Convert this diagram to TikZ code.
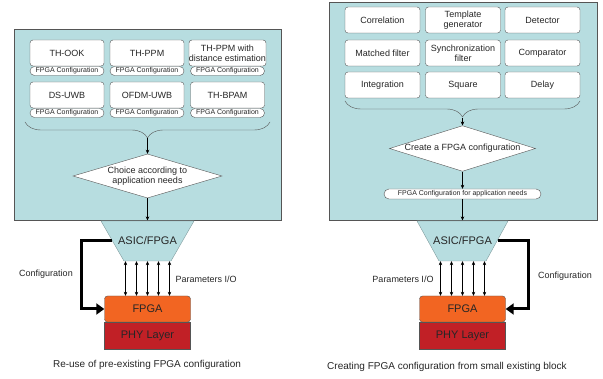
\documentclass[tikz,border=0pt]{standalone}
\usepackage{fontspec}
\setmainfont{Liberation Sans}
\usetikzlibrary{shapes.geometric,shapes.misc,decorations.pathreplacing,arrows.meta}
\definecolor{panelblue}{RGB}{183,221,224}
\definecolor{fpgaorange}{RGB}{242,101,34}
\definecolor{phyred}{RGB}{193,32,38}
\definecolor{edgegray}{RGB}{85,85,85}
\tikzset{
    panel/.style={draw=edgegray, fill=panelblue, line width=0.8pt, inner sep=0pt},
    blockbox/.style={draw=edgegray, fill=white, rounded corners=3pt, minimum width=74pt,
        minimum height=26pt, inner sep=0pt, align=center, font=\fontsize{9}{10}\selectfont},
    cfgtag/.style={rounded rectangle, draw=edgegray, fill=white, minimum width=74pt,
        minimum height=9pt, inner sep=0pt, font=\fontsize{7}{7}\selectfont},
    choice/.style={diamond, draw=edgegray, fill=white, inner sep=0pt, align=center,
        font=\fontsize{9}{10}\selectfont},
    asic/.style={fill=panelblue, draw=panelblue!70!black},
    asictext/.style={minimum width=47pt, minimum height=40pt, inner sep=0pt,
        font=\fontsize{11}{12}\selectfont},
    fpgabox/.style={fill=fpgaorange, draw=edgegray, rounded corners=3pt, minimum width=86pt,
        minimum height=26pt, font=\fontsize{11}{12}\selectfont},
    phybox/.style={fill=phyred, draw=edgegray, minimum width=86pt, minimum height=27pt,
        font=\fontsize{11}{12}\selectfont},
    flow/.style={-{Stealth[length=4pt,width=3.5pt]}, thin},
    pario/.style={{Stealth[length=4pt,width=3.5pt]}-{Stealth[length=4pt,width=3.5pt]}, thin},
    cfgline/.style={line width=3pt, -{Triangle[length=8pt,width=11pt]}},
    brace/.style={decorate, decoration={brace, amplitude=16pt, mirror}, draw=edgegray},
    lbl/.style={font=\fontsize{9}{10}\selectfont},
    caption/.style={font=\fontsize{10}{12}\selectfont}
}
\begin{document}
\begin{tikzpicture}[x=1pt,y=-1pt,text=black!85]
\useasboundingbox (0,0) rectangle (603,379);

% left: re-use of existing configurations
\node[panel, minimum width=267pt, minimum height=191pt] (lpanel) at (147.5,124.5) {};
\node[blockbox] (thook) at (67,53) {TH-OOK};
\node[blockbox] (thppm) at (147,53) {TH-PPM};
\node[blockbox] (thdist) at (227.5,53) {TH-PPM with\\distance estimation};
\node[blockbox] (dsuwb) at (67,95) {DS-UWB};
\node[blockbox] (ofdm) at (147,95) {OFDM-UWB};
\node[blockbox] (thbpam) at (227.5,95) {TH-BPAM};
\node[cfgtag] (tagA) at (67,71) {FPGA Configuration};
\node[cfgtag] (tagB) at (147,71) {FPGA Configuration};
\node[cfgtag] (tagC) at (227.5,71) {FPGA Configuration};
\node[cfgtag] (tagD) at (67,113) {FPGA Configuration};
\node[cfgtag] (tagE) at (147,113) {FPGA Configuration};
\node[cfgtag] (tagF) at (227.5,113) {FPGA Configuration};
\draw[brace] (25,122) -- (270,122);
\coordinate (lbrace) at (147.5,138);
\node[choice, aspect=3.1, minimum width=149pt] (ldia) at (147.5,176)
    {Choice according to\\application needs};
\draw[flow] (lbrace) -- (ldia.north);
\draw[flow] (ldia.south) -- (lpanel.south);

\filldraw[asic] (101,221) -- (194,221) -- (171,261) -- (124,261) -- cycle;
\node[asictext] (ltrap) at (147.5,241) {ASIC/FPGA};
\coordinate (ltrapL) at (112,241);
\node[fpgabox] (lfpga) at (147.5,309) {FPGA};
\node[phybox] (lphy) at (147.5,335.5) {PHY Layer};
\foreach \dx in {-22,-11,0,11,22}
    \draw[pario] ([xshift=\dx pt]ltrap.south) -- ([xshift=\dx pt]lfpga.north);
\draw[cfgline] (ltrapL) -- ++(-31,0) |- (lfpga.west);
\node[lbl] (lcfg) at (46,274) {Configuration};
\node[lbl, anchor=west] (lpar) at (172,279) {Parameters I/O};
\node[caption] (lcap) at (147,365) {Re-use of pre-existing FPGA configuration};

% right: building a configuration from blocks
\node[panel, minimum width=268pt, minimum height=218pt] (rpanel) at (463,111) {};
\node[blockbox, minimum width=75pt] (corr) at (382.5,20) {Correlation};
\node[blockbox, minimum width=75pt] (templ) at (463,20) {Template\\generator};
\node[blockbox, minimum width=75pt] (detect) at (542.5,20) {Detector};
\node[blockbox, minimum width=75pt] (matched) at (382.5,53) {Matched filter};
\node[blockbox, minimum width=75pt] (sync) at (463,53) {Synchronization\\filter};
\node[blockbox, minimum width=75pt] (compar) at (542.5,53) {Comparator};
\node[blockbox, minimum width=75pt] (integ) at (382.5,85) {Integration};
\node[blockbox, minimum width=75pt] (square) at (463,85) {Square};
\node[blockbox, minimum width=75pt] (delay) at (542.5,85) {Delay};
\draw[brace] (345,101) -- (580,101);
\coordinate (rbrace) at (462.5,118);
\node[choice, aspect=3.1, minimum width=146pt] (rdia) at (462.5,148.5)
    {Create a FPGA configuration};
\node[cfgtag, minimum width=157pt, minimum height=10pt] (rtag) at (462.5,194)
    {FPGA Configuration for application needs};
\draw[flow] (rbrace) -- (rdia.north);
\draw[flow] (rdia.south) -- (rtag.north);
\draw[flow] (rtag.south) -- (rtag.south |- rpanel.south);

\filldraw[asic] (417,221) -- (508,221) -- (486,261) -- (439,261) -- cycle;
\node[asictext] (rtrap) at (462.5,241) {ASIC/FPGA};
\coordinate (rtrapR) at (497.5,241);
\node[fpgabox] (rfpga) at (462.5,309) {FPGA};
\node[phybox] (rphy) at (462.5,335.5) {PHY Layer};
\foreach \dx in {-22,-11,0,11,22}
    \draw[pario] ([xshift=\dx pt]rtrap.south) -- ([xshift=\dx pt]rfpga.north);
\draw[cfgline] (rtrapR) -- ++(31,0) |- (rfpga.east);
\node[lbl] (rcfg) at (565,276) {Configuration};
\node[lbl] (rpar) at (403,279) {Parameters I/O};
\node[caption] (rcap) at (447,367) {Creating FPGA configuration from small existing block};
\end{tikzpicture}
\end{document}
